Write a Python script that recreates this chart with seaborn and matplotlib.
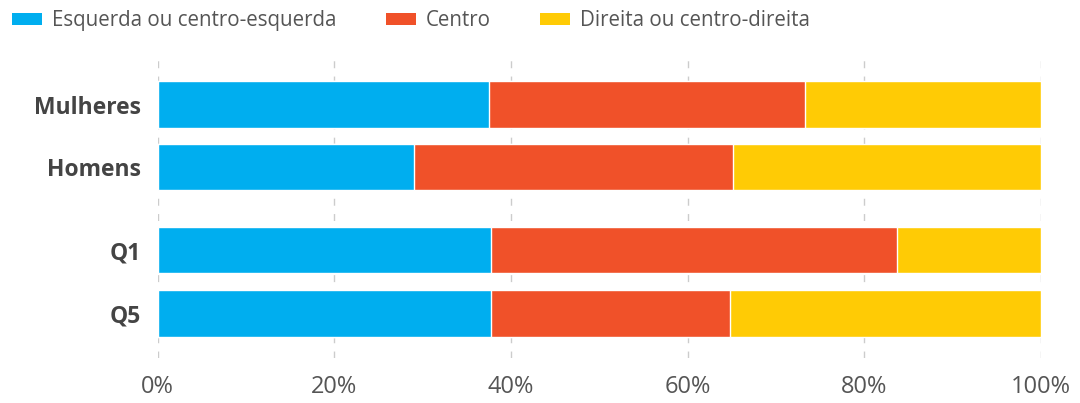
import pandas as pd
import numpy as np
import matplotlib.pyplot as plt
import seaborn as sns
from matplotlib.patches import Patch

sns.set_theme(style="white")
plt.rcParams["font.family"] = ["Open Sans", "DejaVu Sans"]

groups = ["Mulheres", "Homens", "Q1", "Q5"]
positions = [0, 1, 2.33, 3.35]
series = ["Esquerda ou centro-esquerda", "Centro", "Direita ou centro-direita"]
esquerda = [37.5, 29.0, 37.7, 37.7]
centro = [35.8, 36.1, 46.0, 27.1]
direita = [26.7, 34.9, 16.3, 35.2]
colors = ["#00AEEF", "#F05129", "#FFCB05"]

df = pd.DataFrame({"grupo": groups, "pos": positions,
                   series[0]: esquerda, series[1]: centro, series[2]: direita})
# cumulative ends for stacking
cum = df[series].cumsum(axis=1)

fig = plt.figure(figsize=(10.8, 4.03), dpi=100)
ax = fig.add_axes([0.146, 0.112, 0.818, 0.744])

for s, c in zip(reversed(series), reversed(colors)):
    sns.barplot(x=cum[s], y=df["pos"], orient="h", native_scale=True,
                width=0.75, color=c, saturation=1, edgecolor="white",
                linewidth=1, ax=ax)

ax.set_xlim(0, 100)
ax.set_ylim(4.06, -0.75)
ax.set_xticks([0, 20, 40, 60, 80, 100])
ax.set_xticklabels([f"{v}%" for v in [0, 20, 40, 60, 80, 100]],
                   fontsize=17, color="#555555")
ax.set_yticks(positions)
ax.set_yticklabels(groups, fontsize=16.5, fontweight="bold", color="#444444")
ax.tick_params(axis="both", length=0)
ax.tick_params(axis="x", pad=12)
ax.tick_params(axis="y", pad=12)
ax.set_xlabel("")
ax.set_ylabel("")
ax.grid(axis="x", color="#cccccc", linestyle=(0, (5, 6)), linewidth=1)
ax.set_axisbelow(True)
sns.despine(ax=ax, left=True, bottom=True)

handles = [Patch(facecolor=c, edgecolor="none") for c in colors]
fig.legend(handles, series, loc="upper left",
           bbox_to_anchor=(12 / 1080, 1 - 10 / 403),
           ncol=3, frameon=False, fontsize=14.8, handlelength=1.45,
           handleheight=0.55, handletextpad=0.5, columnspacing=2.4,
           borderpad=0, borderaxespad=0, labelcolor="#555555")

fig.savefig("out.png", dpi=100)
